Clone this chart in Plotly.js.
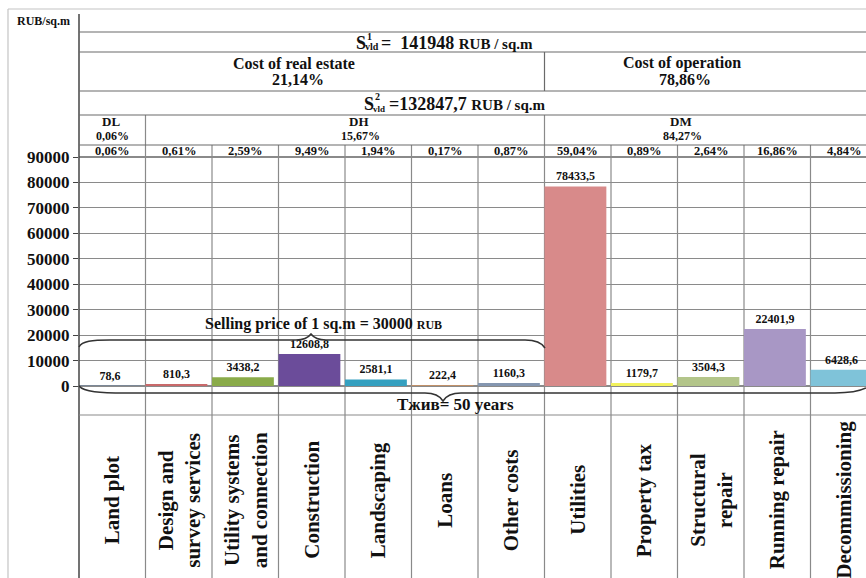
<!DOCTYPE html>
<html>
<head>
<meta charset="utf-8">
<script src="https://cdn.plot.ly/plotly-3.0.1.min.js"></script>
<style>html,body{margin:0;padding:0;background:#fff;}#chart{width:866px;height:578px;}</style>
</head>
<body>
<div id="chart"></div>
<script>
// ---------- data ----------
const categories = ['Land plot', 'Design and<br>survey services', 'Utility systems<br>and connection', 'Construction',
  'Landscaping', 'Loans', 'Other costs', 'Utilities', 'Property tax', 'Structural<br>repair', 'Running repair', 'Decommissioning'];
const values = [78.6, 810.3, 3438.2, 12608.8, 2581.1, 222.4, 1160.3, 78433.5, 1179.7, 3504.3, 22401.9, 6428.6];
const valueLabels = ['78,6', '810,3', '3438,2', '12608,8', '2581,1', '222,4', '1160,3', '78433,5', '1179,7', '3504,3', '22401,9', '6428,6'];
const shares = ['0,06%', '0,61%', '2,59%', '9,49%', '1,94%', '0,17%', '0,87%', '59,04%', '0,89%', '2,64%', '16,86%', '4,84%'];
const barColors = ['#4f81bd', '#c9696a', '#8aab4a', '#6b4c9a', '#35a0c0', '#f79646', '#8496b0',
  '#d88a8a', '#f2f25c', '#b3c58a', '#a897c5', '#7fc3d9'];
const yTicks = [0, 10000, 20000, 30000, 40000, 50000, 60000, 70000, 80000, 90000];
const groupNames = ['DL', 'DH', 'DM'];
const groupShares = ['0,06%', '15,67%', '84,27%'];
const partNames = ['Cost of real estate', 'Cost of operation'];
const partShares = ['21,14%', '78,86%'];
const s1Value = '141948';
const s2Value = '132847,7';
const sellingPrice = '30000';
const lifeYears = '50';

// ---------- layout helpers (pixel -> paper) ----------
const L = 79, T = 10, W = 866, H = 578;
const PW = W - L, PH = H - T;
const px = v => (v - L) / PW;
const py = v => (H - v) / PH;
const colW = 66.5;
const xRange = [-0.5, -0.5 + PW / colW];
const y0pix = 386, y90pix = 157;
const perPx = 90000 / (y0pix - y90pix);
const yRange = [-(H - y0pix) * perPx, 90000 + (y90pix - T) * perPx];

const FONT = 'Liberation Serif, Times New Roman, serif';
const ink = '#111';

const idx = categories.map((c, i) => i);

const trace = {
  type: 'bar',
  x: idx,
  y: values,
  marker: {color: barColors, line: {width: 0}},
  width: 0.93,
  offset: -0.5,
  text: valueLabels,
  textposition: 'outside',
  constraintext: 'none',
  cliponaxis: false,
  textfont: {family: FONT, size: 12, color: ink, weight: 'bold'},
  hoverinfo: 'none'
};

const shapes = [];
const hline = (y, x1, x2, color, w) => shapes.push({type: 'line', xref: 'paper', yref: 'paper',
  x0: px(x1), x1: px(x2), y0: py(y), y1: py(y), line: {color: color, width: w}, layer: 'above'});
const vlineData = (xd, ya, yb, color, w, layer) => shapes.push({type: 'line', xref: 'x', yref: 'paper',
  x0: xd, x1: xd, y0: py(ya), y1: py(yb), line: {color: color, width: w}, layer: layer || 'below'});

// outer frame
hline(9, 8, 866, '#c4c4c4', 1.2);
shapes.push({type: 'line', xref: 'paper', yref: 'paper', x0: px(8), x1: px(8), y0: py(9), y1: py(578), line: {color: '#c4c4c4', width: 1.2}});
// y axis line
shapes.push({type: 'line', xref: 'paper', yref: 'paper', x0: 0, x1: 0, y0: py(14), y1: 0, line: {color: '#444', width: 1.5}});
// header horizontals
[32, 52, 91, 115, 145].forEach(y => hline(y, 79, 866, '#6a6a6a', 1.2));
hline(415, 79, 866, '#8a8a8a', 1.2);
// column boundaries
for (let i = 0; i < categories.length - 1; i++) {
  const xb = i + 0.5;
  const top = (i === 0 || i === 6) ? 115 : 145;
  vlineData(xb, top, 578, '#8a8a8a', 1.2, 'below');
}
vlineData(6.5, 52, 91, '#6a6a6a', 1.2, 'above');

// braces
const P = (x, y) => px(x).toFixed(5) + ',' + py(y).toFixed(5);
const upper = 'M' + P(79, 347) + ' C' + P(82, 341) + ' ' + P(92, 340) + ' ' + P(110, 340) +
  ' L' + P(296, 340) + ' C' + P(304, 340) + ' ' + P(308, 338) + ' ' + P(311, 334) +
  ' C' + P(314, 338) + ' ' + P(318, 340) + ' ' + P(326, 340) +
  ' L' + P(525, 340) + ' C' + P(536, 340) + ' ' + P(542, 343) + ' ' + P(545, 348);
const lower = 'M' + P(79, 386) + ' C' + P(84, 392) + ' ' + P(100, 393) + ' ' + P(125, 393) +
  ' L' + P(425, 393) + ' C' + P(435, 393) + ' ' + P(440, 396) + ' ' + P(443, 401) +
  ' C' + P(446, 396) + ' ' + P(451, 393) + ' ' + P(461, 393) +
  ' L' + P(835, 393) + ' C' + P(850, 393) + ' ' + P(860, 391) + ' ' + P(866, 388);
shapes.push({type: 'path', xref: 'paper', yref: 'paper', path: upper, line: {color: '#333', width: 1.5}, layer: 'above'});
shapes.push({type: 'path', xref: 'paper', yref: 'paper', path: lower, line: {color: '#333', width: 1.5}, layer: 'above'});

// ---------- annotations ----------
const ann = [];
const txt = (text, x, y, size, opts) => ann.push(Object.assign({
  text: text, xref: 'paper', yref: 'paper', x: px(x), y: py(y), showarrow: false,
  xanchor: 'center', yanchor: 'middle',
  font: {family: FONT, size: size, color: ink, weight: 'bold'}
}, opts || {}));

txt('RUB/sq.m', 43, 21, 12);

// S1 row
txt('S', 354, 43, 18, {xanchor: 'left'});
txt('1', 365, 36, 10, {xanchor: 'left'});
txt('vld', 363, 47, 10, {xanchor: 'left'});
txt('=  ' + s1Value + ' <span style="font-size:15px">RUB / sq.m</span>', 379, 43, 18, {xanchor: 'left'});
// cost parts
txt(partNames[0], 294, 63, 16);
txt(partShares[0], 298, 79, 16);
txt(partNames[1], 682, 63, 16);
txt(partShares[1], 685, 79, 16);
// S2 row
txt('S', 362, 104, 18, {xanchor: 'left'});
txt('2', 373, 97, 10, {xanchor: 'left'});
txt('vld', 371, 109, 9, {xanchor: 'left'});
txt('=' + s2Value + ' <span style="font-size:15px">RUB / sq.m</span>', 387, 104, 18, {xanchor: 'left'});
// groups (two separate lines)
const groupX = [111, 359, 681];
groupNames.forEach((g, i) => {
  txt(g, groupX[i], 121.5, 13, {borderpad: 0});
  txt(groupShares[i], groupX[i] + 1, 135.5, 12, {borderpad: 0});
});
// per-category shares
shares.forEach((s, i) => ann.push({
  text: s, xref: 'x', yref: 'paper', x: i, y: py(151), showarrow: false, borderpad: 0,
  xanchor: 'center', yanchor: 'middle', font: {family: FONT, size: 12.5, color: ink, weight: 'bold'}
}));
// braces text
txt('Selling price of 1 sq.m = ' + sellingPrice + ' <span style="font-size:12px">RUB</span>', 203, 324, 16, {xanchor: 'left'});
txt('Tжив= ' + lifeYears + ' years', 455, 404, 17);
// category labels
categories.forEach((c, i) => ann.push({
  text: c, xref: 'x', yref: 'paper', x: i, y: py(500), showarrow: false, textangle: -90,
  xanchor: 'center', yanchor: 'middle', align: 'center',
  font: {family: FONT, size: 21, color: ink, weight: 'bold'}
}));

const layout = {
  width: W, height: H,
  margin: {l: L, r: 0, t: T, b: 0, pad: 0},
  paper_bgcolor: '#fff', plot_bgcolor: '#fff',
  showlegend: false,
  xaxis: {range: xRange, showgrid: false, zeroline: false, showticklabels: false, ticks: '', fixedrange: true, showline: false},
  yaxis: {range: yRange, tickvals: yTicks, ticktext: yTicks.map(String), showgrid: true, gridcolor: '#8a8a8a', gridwidth: 1.2,
    zeroline: false, ticks: 'outside', ticklen: 5, tickcolor: '#444', showline: false,
    tickfont: {family: FONT, size: 17, color: ink, weight: 'bold'}, fixedrange: true},
  shapes: shapes,
  annotations: ann
};

Plotly.newPlot('chart', [trace], layout, {displayModeBar: false, staticPlot: true});
</script>
</body>
</html>
